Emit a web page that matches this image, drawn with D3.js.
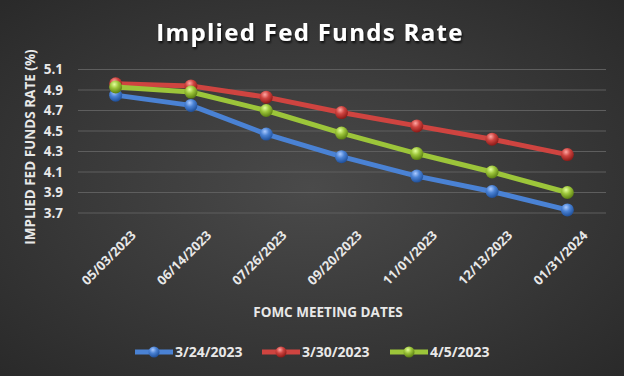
<!DOCTYPE html>
<html><head><meta charset="utf-8">
<script src="https://cdn.jsdelivr.net/npm/d3@7"></script>
<style>body{margin:0;background:#333}svg{display:block}</style>
</head><body>
<script>
const categories = ["05/03/2023","06/14/2023","07/26/2023","09/20/2023","11/01/2023","12/13/2023","01/31/2024"];
const seriesNames = ["3/24/2023","3/30/2023","4/5/2023"];
const s0324 = [4.85,4.75,4.47,4.25,4.06,3.91,3.73];
const s0330 = [4.96,4.94,4.83,4.68,4.55,4.42,4.27];
const s0405 = [4.93,4.88,4.70,4.48,4.28,4.10,3.90];
const yTicks = [3.7,3.9,4.1,4.3,4.5,4.7,4.9,5.1];
const colors = ["#4a82d4","#cf4440","#9cc53a"];
const lights = ["#a9c9ff","#ffa6a2","#e4ff9c"];
const darks = ["#1f4f99","#8a1a17","#5a7d12"];

const W=624,H=376;
const svg=d3.select("body").append("svg").attr("width",W).attr("height",H);
const defs=svg.append("defs");
const bg=defs.append("radialGradient").attr("id","bg").attr("cx","50%").attr("cy","50%").attr("r","70%");
bg.append("stop").attr("offset","0%").attr("stop-color","#4a4a4a");
bg.append("stop").attr("offset","100%").attr("stop-color","#2a2a2a");
svg.append("rect").attr("width",W).attr("height",H).attr("fill","url(#bg)");
const sh=defs.append("filter").attr("id","ts").attr("x","-10%").attr("y","-30%").attr("width","120%").attr("height","160%");
sh.append("feDropShadow").attr("dx",1).attr("dy",2).attr("stdDeviation",1.2).attr("flood-color","#000").attr("flood-opacity",0.8);
colors.forEach((c,i)=>{
  const g=defs.append("radialGradient").attr("id","m"+i).attr("cx","40%").attr("cy","30%").attr("r","70%");
  g.append("stop").attr("offset","0%").attr("stop-color",lights[i]);
  g.append("stop").attr("offset","45%").attr("stop-color",c);
  g.append("stop").attr("offset","100%").attr("stop-color",darks[i]);
});

const x=d3.scaleBand().domain(categories).range([78,605]);
const y=d3.scaleLinear().domain([3.7,5.1]).range([213,69.5]);

// gridlines
svg.append("g").selectAll("line").data(yTicks).join("line")
  .attr("x1",78).attr("x2",606).attr("y1",d=>y(d)).attr("y2",d=>y(d))
  .attr("stroke","#5e5e5e").attr("stroke-width",1.2);

// y axis labels
const yAxis=d3.axisLeft(y).tickValues(yTicks).tickFormat(d3.format(".1f")).tickSize(0).tickPadding(0);
const ya=svg.append("g").attr("transform","translate(63,0)").call(yAxis);
ya.select(".domain").remove();
ya.selectAll("text").attr("fill","#e8e8e8").attr("font-family","'Open Sans',sans-serif").attr("font-weight","bold").attr("font-size",13.5);

// x axis labels
const xAxis=d3.axisBottom(x).tickSize(0).tickPadding(0);
const xa=svg.append("g").attr("transform","translate(0,233)").call(xAxis);
xa.select(".domain").remove();
xa.selectAll("text").attr("fill","#e8e8e8").attr("font-family","'Open Sans',sans-serif").attr("font-weight","bold").attr("font-size",13)
  .attr("text-anchor","end").attr("dy","0.35em").attr("transform","translate(18,0) rotate(-45)").attr("x",0).attr("y",0);

// titles
svg.append("text").attr("x",310).attr("y",41).attr("text-anchor","middle").attr("fill","#fff")
  .attr("font-family","'Open Sans',sans-serif").attr("font-weight","bold").attr("font-size",24).attr("letter-spacing",1.3)
  .attr("filter","url(#ts)").text("Implied Fed Funds Rate");
svg.append("text").attr("transform","translate(35,147) rotate(-90)").attr("text-anchor","middle").attr("fill","#e8e8e8")
  .attr("font-family","'Open Sans',sans-serif").attr("font-weight","bold").attr("font-size",13.5).text("IMPLIED FED FUNDS RATE (%)");
svg.append("text").attr("x",328).attr("y",317).attr("text-anchor","middle").attr("fill","#e8e8e8")
  .attr("font-family","'Open Sans',sans-serif").attr("font-weight","bold").attr("font-size",13.5).text("FOMC MEETING DATES");

// series
const series=[s0324,s0330,s0405];
const line=d3.line().x((d,i)=>x(categories[i])+x.bandwidth()/2).y(d=>y(d));
series.forEach((s,k)=>{
  const g=svg.append("g");
  g.append("path").datum(s).attr("d",line).attr("fill","none").attr("stroke",colors[k]).attr("stroke-width",5).attr("stroke-linejoin","round");
  g.selectAll("circle").data(s).join("circle")
    .attr("cx",(d,i)=>x(categories[i])+x.bandwidth()/2).attr("cy",d=>y(d)).attr("r",6.5).attr("fill","url(#m"+k+")");
});

// legend
const legX=[135,262,390];
seriesNames.forEach((n,k)=>{
  const g=svg.append("g").attr("transform",`translate(${legX[k]},352)`);
  g.append("line").attr("x1",0).attr("x2",38).attr("stroke",colors[k]).attr("stroke-width",5);
  g.append("circle").attr("cx",19).attr("r",5.5).attr("fill","url(#m"+k+")");
  g.append("text").attr("x",40).attr("y",0).attr("dy","0.35em").attr("fill","#e8e8e8")
    .attr("font-family","'Open Sans',sans-serif").attr("font-weight","bold").attr("font-size",14).text(n);
});
</script>
</body></html>
